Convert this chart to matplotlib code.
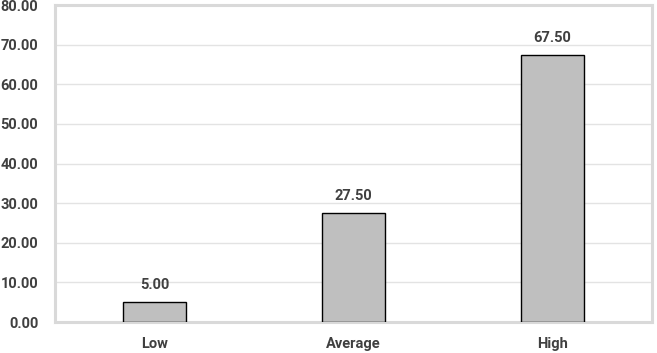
import matplotlib.pyplot as plt
import numpy as np

categories = ["Low", "Average", "High"]
values = [5.00, 27.50, 67.50]
yticks = [0, 10, 20, 30, 40, 50, 60, 70, 80]

plt.rcParams['font.family'] = ['Roboto', 'DejaVu Sans']
plt.rcParams['font.weight'] = 'bold'

fig = plt.figure(figsize=(6.57, 3.53), dpi=100)
ax = fig.add_axes([0.0837, 0.0878, 0.9087, 0.898])

x = np.arange(len(categories))
ax.bar(x, values, width=0.32, color="#BFBFBF", edgecolor="black", linewidth=1, zorder=3)

for xi, v in zip(x, values):
    ax.annotate("%.2f" % v, (xi, v), xytext=(0, 7), textcoords="offset points",
                ha="center", va="bottom", fontsize=10.5, fontweight="bold", color="#404040")

ax.set_xlim(-0.5, len(categories) - 0.5)
ax.set_ylim(0, 80)
ax.set_yticks(yticks)
ax.set_yticklabels(["%.2f" % t for t in yticks])
ax.set_xticks(x)
ax.set_xticklabels(categories)
ax.tick_params(axis="y", length=0, pad=12, labelsize=10.5, labelcolor="#404040")
ax.tick_params(axis="x", length=0, pad=11, labelsize=10.5, labelcolor="#404040")

ax.grid(axis="y", color="#E3E3E3", linewidth=1, zorder=0)
for s in ax.spines.values():
    s.set_color("#D9D9D9")
    s.set_linewidth(2.2)

fig.savefig("out.png", dpi=100)
